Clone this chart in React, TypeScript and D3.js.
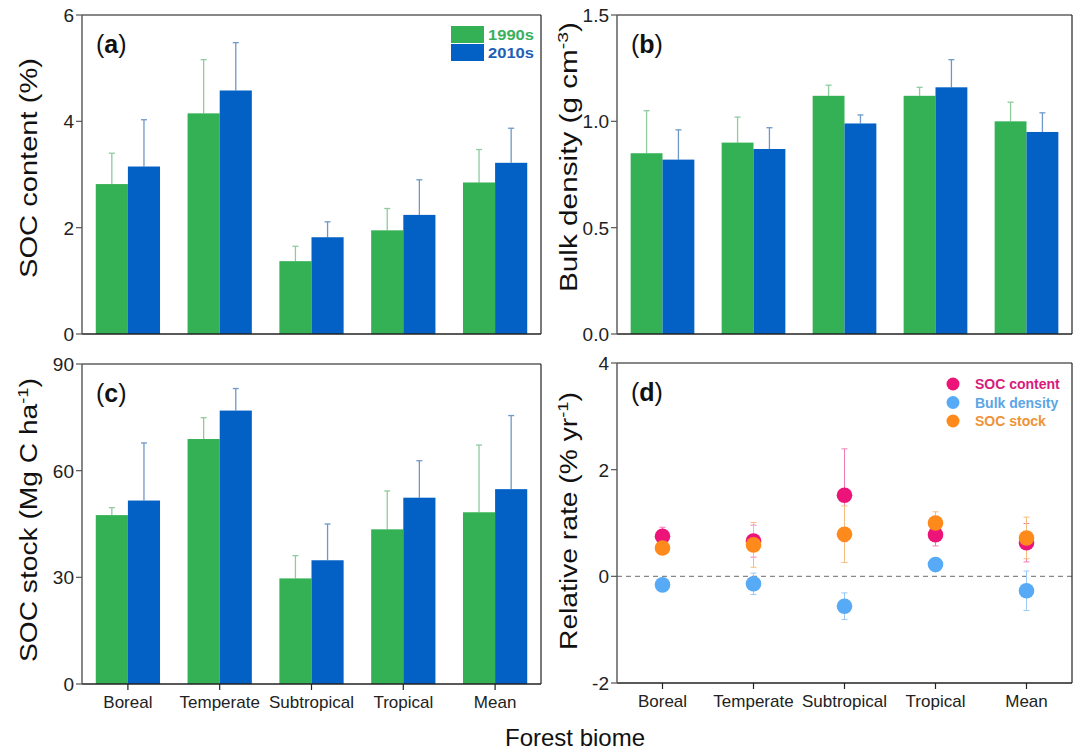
import React from "react";
import * as d3 from "d3";

const categories = ["Boreal", "Temperate", "Subtropical", "Tropical", "Mean"];

// (a) SOC content (%)
const soc1990 = [2.82, 4.15, 1.37, 1.95, 2.85];
const socErr1990 = [0.58, 1.01, 0.28, 0.41, 0.62];
const soc2010 = [3.15, 4.58, 1.82, 2.24, 3.22];
const socErr2010 = [0.88, 0.9, 0.29, 0.66, 0.65];

// (b) Bulk density (g cm-3)
const bd1990 = [0.85, 0.9, 1.12, 1.12, 1.0];
const bdErr1990 = [0.2, 0.12, 0.05, 0.04, 0.09];
const bd2010 = [0.82, 0.87, 0.99, 1.16, 0.95];
const bdErr2010 = [0.14, 0.1, 0.04, 0.13, 0.09];

// (c) SOC stock (Mg C ha-1)
const stock1990 = [47.5, 68.9, 29.7, 43.5, 48.3];
const stockErr1990 = [2.1, 6.0, 6.4, 10.8, 18.9];
const stock2010 = [51.6, 76.9, 34.8, 52.4, 54.8];
const stockErr2010 = [16.2, 6.2, 10.2, 10.4, 20.7];

// (d) Relative rate (% yr-1)
const rateSoc = [0.75, 0.66, 1.52, 0.78, 0.63];
const rateSocErr = [0.17, 0.3, 0.87, 0.21, 0.36];
const rateBd = [-0.16, -0.14, -0.56, 0.22, -0.27];
const rateBdErr = [0.05, 0.2, 0.25, 0.05, 0.37];
const rateStock = [0.53, 0.59, 0.79, 1.0, 0.72];
const rateStockErr = [0.08, 0.42, 0.53, 0.21, 0.39];

const ticksA = [0, 2, 4, 6];
const ticksB = [0, 0.5, 1.0, 1.5];
const ticksC = [0, 30, 60, 90];
const ticksD = [-2, 0, 2, 4];

const GREEN = "#35b155";
const BLUE = "#0360c4";
const GREEN_ERR = "#8fcb9d";
const BLUE_ERR = "#6f98c8";
const FONT = "Liberation Sans, Arial, sans-serif";

const dotSeries = [
  { name: "SOC content", values: rateSoc, errs: rateSocErr, color: "#ec1478", err: "#f07cb4", text: "#d81b7c" },
  { name: "Bulk density", values: rateBd, errs: rateBdErr, color: "#57aaf5", err: "#9ccaf5", text: "#5aa6e6" },
  { name: "SOC stock", values: rateStock, errs: rateStockErr, color: "#ff8a1c", err: "#f6bd7e", text: "#ef9338" },
];

type Box = { x0: number; x1: number; y0: number; y1: number };

// label: [content, centre y, length, baseline offset from axis]
function Frame({ box, y, ticks, fmt, label, tag, bottomTicks, x }: any) {
  const [content, cy, len, off] = label;
  return (
    <g fontFamily={FONT}>
      <line x1={box.x0} x2={box.x1} y1={box.y0} y2={box.y0} stroke="#111" strokeWidth={1.2} />
      <line x1={box.x1} x2={box.x1} y1={box.y0} y2={box.y1} stroke="#222" strokeWidth={1.2} />
      <line x1={box.x0} x2={box.x1} y1={box.y1} y2={box.y1} stroke="#222" strokeWidth={1.4} />
      <line x1={box.x0} x2={box.x0} y1={box.y0} y2={box.y1} stroke="#555" strokeWidth={1.4} />
      {ticks.map((t: number) => (
        <g key={t}>
          <line x1={box.x0 - 6} x2={box.x0} y1={y(t)} y2={y(t)} stroke="#555" strokeWidth={1.2} />
          <text x={box.x0 - 8} y={y(t)} dy="0.36em" textAnchor="end" fontSize={19} fill="#222">
            {fmt(t)}
          </text>
        </g>
      ))}
      {bottomTicks &&
        categories.map((c) => (
          <g key={c}>
            <line x1={x(c)} x2={x(c)} y1={box.y1} y2={box.y1 + 6} stroke="#222" strokeWidth={1.2} />
            <text x={x(c)} y={box.y1 + 24} textAnchor="middle" fontSize={17} fill="#222">
              {c}
            </text>
          </g>
        ))}
      <text
        transform={`translate(${box.x0 - off},${cy}) rotate(-90)`}
        textAnchor="middle"
        fontSize={23}
        fill="#111"
        textLength={len}
        lengthAdjust="spacingAndGlyphs"
      >
        {content}
      </text>
      <text x={box.x0 + 14} y={box.y0 + 38} fontSize={25} fill="#111">
        (<tspan fontWeight="bold">{tag}</tspan>)
      </text>
    </g>
  );
}

function BarPanel({ box, domain, ticks, fmt, a, aErr, b, bErr, label, tag, bottomTicks, legend }: any) {
  const x = d3.scaleBand<string>().domain(categories).range([box.x0, box.x1]).paddingInner(0.3).paddingOuter(0.15);
  const y = d3.scaleLinear().domain(domain).range([box.y1, box.y0]);
  const half = x.bandwidth() / 2;
  const xc = (c: string) => (x(c) as number) + half;
  const series = [
    { v: a, e: aErr, fill: GREEN, err: GREEN_ERR, off: 0 },
    { v: b, e: bErr, fill: BLUE, err: BLUE_ERR, off: half },
  ];
  return (
    <g>
      {series.map((s, si) =>
        categories.map((c, i) => {
          const bx = (x(c) as number) + s.off;
          const mid = bx + half / 2;
          const top = y(s.v[i]);
          const et = y(s.v[i] + s.e[i]);
          return (
            <g key={si + c}>
              <line x1={mid} x2={mid} y1={top} y2={et} stroke={s.err} strokeWidth={1.3} />
              <line x1={mid - 3} x2={mid + 3} y1={et} y2={et} stroke={s.err} strokeWidth={1.3} />
              <rect x={bx} y={top} width={half} height={y(0) - top} fill={s.fill} />
            </g>
          );
        })
      )}
      {legend && (
        <g fontFamily={FONT} fontWeight="bold" fontSize={15}>
          <rect x={box.x1 - 90} y={box.y0 + 11} width={33} height={17} fill={GREEN} />
          <rect x={box.x1 - 90} y={box.y0 + 29} width={33} height={17} fill={BLUE} />
          <text x={box.x1 - 53} y={box.y0 + 25} fill="#3aaf5c" textLength={46} lengthAdjust="spacingAndGlyphs">
            1990s
          </text>
          <text x={box.x1 - 53} y={box.y0 + 43} fill="#1f5fb6" textLength={46} lengthAdjust="spacingAndGlyphs">
            2010s
          </text>
        </g>
      )}
      <Frame box={box} y={y} ticks={ticks} fmt={fmt} label={label} tag={tag} bottomTicks={bottomTicks} x={xc} />
    </g>
  );
}

function DotPanel({ box, label }: any) {
  const x = d3.scalePoint<string>().domain(categories).range([box.x0, box.x1]).padding(0.5);
  const y = d3.scaleLinear().domain([-2, 4]).range([box.y1, box.y0]);
  const xc = (c: string) => x(c) as number;
  return (
    <g>
      <line x1={box.x0} x2={box.x1} y1={y(0)} y2={y(0)} stroke="#888" strokeWidth={1.3} strokeDasharray="5,4" />
      {dotSeries.map((s) =>
        categories.map((c, i) => {
          const cx = xc(c);
          const hi = y(s.values[i] + s.errs[i]);
          const lo = y(s.values[i] - s.errs[i]);
          return (
            <g key={s.name + c} stroke={s.err} strokeWidth={1}>
              <line x1={cx} x2={cx} y1={hi} y2={lo} />
              <line x1={cx - 3} x2={cx + 3} y1={hi} y2={hi} />
              <line x1={cx - 3} x2={cx + 3} y1={lo} y2={lo} />
            </g>
          );
        })
      )}
      {dotSeries.map((s) =>
        categories.map((c, i) => (
          <circle key={s.name + c} cx={xc(c)} cy={y(s.values[i])} r={7.8} fill={s.color} />
        ))
      )}
      <g fontFamily={FONT} fontWeight="bold" fontSize={14}>
        {dotSeries.map((s, i) => (
          <g key={s.name}>
            <circle cx={box.x1 - 119} cy={box.y0 + 21 + i * 18.5} r={6.5} fill={s.color} />
            <text x={box.x1 - 97} y={box.y0 + 21 + i * 18.5} dy="0.36em" fill={s.text}>
              {s.name}
            </text>
          </g>
        ))}
      </g>
      <Frame box={box} y={y} ticks={ticksD} fmt={(t: number) => `${t}`} label={label} tag="d" bottomTicks x={xc} />
    </g>
  );
}

const sup = (base: string, s: string) => (
  <>
    {base}
    <tspan dy="-9" fontSize={15}>
      {s}
    </tspan>
    <tspan dy="9">)</tspan>
  </>
);

export default function App() {
  const boxA: Box = { x0: 82, x1: 541, y0: 15, y1: 334 };
  const boxB: Box = { x0: 617, x1: 1072, y0: 15, y1: 334 };
  const boxC: Box = { x0: 82, x1: 541, y0: 364, y1: 684 };
  const boxD: Box = { x0: 617, x1: 1072, y0: 363, y1: 683 };
  const int = (t: number) => `${t}`;
  const one = d3.format(".1f");
  return (
    <svg width={1073} height={754} style={{ position: "absolute", left: 0, top: 0, background: "#fff" }}>
      <BarPanel
        box={boxA}
        domain={[0, 6]}
        ticks={ticksA}
        fmt={int}
        a={soc1990}
        aErr={socErr1990}
        b={soc2010}
        bErr={socErr2010}
        label={["SOC content (%)", 168, 220, 45]}
        tag="a"
        legend
      />
      <BarPanel
        box={boxB}
        domain={[0, 1.5]}
        ticks={ticksB}
        fmt={one}
        a={bd1990}
        aErr={bdErr1990}
        b={bd2010}
        bErr={bdErr2010}
        label={[sup("Bulk density (g cm", "-3"), 157, 270, 40]}
        tag="b"
      />
      <BarPanel
        box={boxC}
        domain={[0, 90]}
        ticks={ticksC}
        fmt={int}
        a={stock1990}
        aErr={stockErr1990}
        b={stock2010}
        bErr={stockErr2010}
        label={[sup("SOC stock (Mg C ha", "-1"), 520, 284, 45]}
        tag="c"
        bottomTicks
      />
      <DotPanel box={boxD} label={[sup("Relative rate (% yr", "-1"), 521, 258, 40]} />
      <text x={575} y={746} textAnchor="middle" fontFamily={FONT} fontSize={24} fill="#111">
        Forest biome
      </text>
    </svg>
  );
}
